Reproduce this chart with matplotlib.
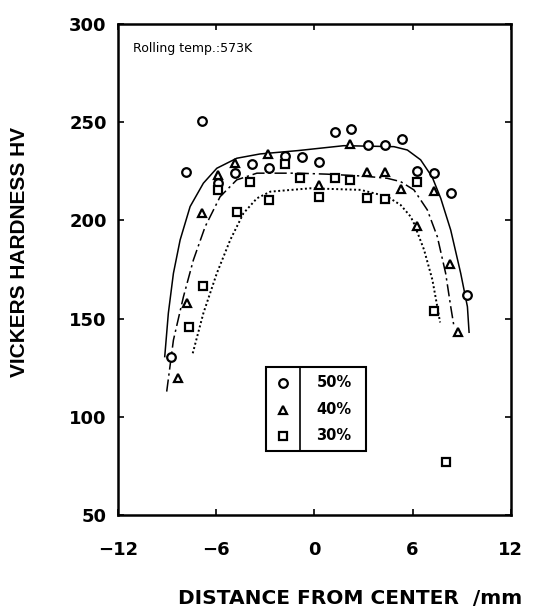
import matplotlib
matplotlib.use('Agg')
import matplotlib.pyplot as plt
from matplotlib.patches import Rectangle

plt.rcParams['font.family'] = ['DejaVu Sans']

# 측정 데이터 (압하율별 경도)
x50 = [-8.78, -7.85, -6.84, -5.86, -4.84, -3.82, -2.8, -1.78, -0.76, 0.26, 1.29,
       2.25, 3.27, 4.29, 5.37, 6.29, 7.31, 8.33, 9.35]
y50 = [130.6, 224.8, 250.4, 219.2, 224.0, 228.7, 226.5, 232.8, 232.1, 229.9, 245.2,
       246.4, 238.4, 238.4, 241.3, 225.3, 224.0, 214.1, 162.0]

x40 = [-8.31, -7.8, -6.88, -5.86, -4.84, -2.85, 0.26, 2.2, 3.23, 4.29, 5.27,
       6.25, 7.31, 8.29, 8.78]
y40 = [119.6, 157.8, 203.6, 223.1, 229.0, 233.8, 218.0, 238.9, 224.8, 224.5, 215.8,
       197.2, 215.1, 177.8, 143.3]

x30 = [-7.63, -6.78, -5.86, -4.74, -3.92, -2.75, -1.78, -0.86, 0.26, 1.29, 2.2,
       3.23, 4.29, 6.29, 7.29, 8.06]
y30 = [145.9, 166.8, 215.5, 204.0, 219.7, 210.2, 228.5, 221.4, 212.0, 221.4, 220.6,
       211.2, 210.8, 219.5, 154.0, 77.0]

# 손으로 그린 추세선
fit50_x = [-9.14, -8.92, -8.61, -8.2, -7.59, -6.78, -5.96, -4.74, -3.31, -1.0, 1.8,
           4.86, 5.68, 6.49, 7.2, 7.72, 8.33, 8.94, 9.35, 9.45]
fit50_y = [130.6, 152.7, 173, 190, 207, 218.9, 226.5, 231.6, 233.8, 235.5, 238,
           237.5, 235.8, 230.8, 222, 211.2, 195, 173, 156, 143]

fit40_x = [-9.02, -8.61, -8.0, -7.39, -6.67, -5.76, -4.74, -3.51, -1.0, 0.78, 3.0,
           4.45, 5.27, 6.08, 6.9, 7.51, 8.02, 8.33, 8.53]
fit40_y = [112.8, 139, 161, 179.8, 196.8, 212, 220.6, 224, 224, 223.5, 222.5,
           221.4, 219.7, 215.5, 205.3, 191.7, 173, 156, 145.9]

fit30_x = [-7.43, -6.78, -5.96, -5.14, -4.33, -3.51, -2.69, -0.24, 2.82, 4.45, 5.27,
           5.88, 6.08, 6.7, 7.21, 7.51, 7.68]
fit30_y = [132.3, 152.7, 173, 190, 203.6, 211.2, 214.6, 216.3, 215.5, 212.1, 207.8,
           201.9, 198.5, 185, 169.7, 156, 148]

labels = ['50%', '40%', '30%']
markers = ['o', '^', 's']

fig = plt.figure(figsize=(5.36, 6.13), dpi=100)
ax = fig.add_axes([0.220, 0.160, 0.733, 0.801])

# 추세선
ax.plot(fit50_x, fit50_y, color='black', lw=1.1, ls='-')
ax.plot(fit40_x, fit40_y, color='black', lw=1.1, ls=(0, (8, 2.5, 1.5, 2.5)))
ax.plot(fit30_x, fit30_y, color='black', lw=1.4, ls=(0, (1, 1.3)))

# 측정점
mk = dict(ls='none', mfc='white', mec='black', mew=1.6, color='black')
ax.plot(x50, y50, marker='o', ms=6.2, **mk)
ax.plot(x40, y40, marker='^', ms=6.2, **mk)
ax.plot(x30, y30, marker='s', ms=5.3, **mk)

ax.set_xlim(-12, 12)
ax.set_ylim(50, 300)
ax.set_xticks([-12, -6, 0, 6, 12])
ax.set_xticklabels(['\u221212', '\u22126', '0', '6', '12'])
ax.set_yticks([50, 100, 150, 200, 250, 300])
ax.tick_params(direction='in', length=4, width=1.2, top=True, right=True,
               labelsize=13)
ax.tick_params(axis='x', pad=19)
ax.tick_params(axis='y', pad=8)
for lab in ax.get_xticklabels() + ax.get_yticklabels():
    lab.set_fontweight('bold')
for sp in ax.spines.values():
    sp.set_linewidth(1.8)

ax.text(0.038, 0.963, 'Rolling temp.:573K', transform=ax.transAxes,
        fontsize=9, va='top', ha='left')

# 범례 (칸막이 있는 상자)
lx0, lx1, ly0, ly1, ldiv = 0.377, 0.631, 0.130, 0.302, 0.463
ax.add_patch(Rectangle((lx0, ly0), lx1 - lx0, ly1 - ly0, transform=ax.transAxes,
                       fill=False, ec='black', lw=1.5, zorder=5))
ax.plot([ldiv, ldiv], [ly0, ly1], transform=ax.transAxes, color='black', lw=1.2,
        zorder=5)
rows = [0.269, 0.214, 0.161]
sizes = [6.2, 6.2, 5.3]
for lab, m, ry, s in zip(labels, markers, rows, sizes):
    ax.plot([0.42], [ry], marker=m, ms=s, transform=ax.transAxes,
            **dict(mk, zorder=6))
    ax.text(0.505, ry, lab, transform=ax.transAxes, fontsize=10.5,
            fontweight='bold', va='center', ha='left')

fig.text(0.037, 1 - 252 / 613, 'VICKERS HARDNESS HV', rotation=90,
         fontsize=15, fontweight='bold', family='Liberation Sans',
         ha='center', va='center')
fig.text(0.974, 1 - 598 / 613, 'DISTANCE FROM CENTER  /mm', fontsize=14.5,
         fontweight='bold', ha='right', va='center')

fig.savefig('out.png', dpi=100)
